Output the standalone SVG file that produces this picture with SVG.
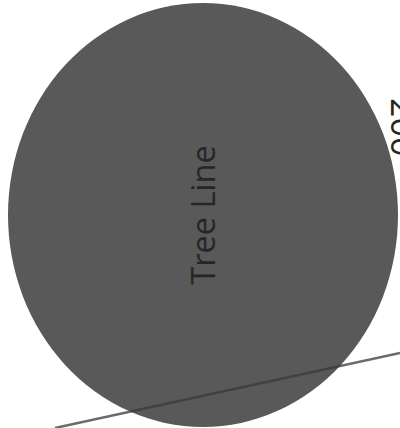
<svg xmlns="http://www.w3.org/2000/svg" width="400" height="428" viewBox="0 0 400 428">
  <style>
    .tree { fill: #595959; }
    .label { font-family: "Open Sans", "Noto Sans", sans-serif; fill: #262626; }
    .conn { stroke: #3a3a3a; stroke-opacity: 0.75; stroke-width: 2.5; fill: none; }
  </style>
  <rect width="400" height="428" fill="#ffffff"/>
  <g id="tree-line">
    <ellipse class="tree" cx="203" cy="215" rx="195" ry="212"/>
    <text class="label" font-size="32.5" text-anchor="middle" transform="translate(215,215) rotate(-90)">Tree Line</text>
  </g>
  <g id="distance-label">
    <text class="label" font-size="34" transform="translate(391,98) rotate(90)">200'</text>
  </g>
  <g id="connectors">
    <line class="conn" x1="55" y1="428" x2="400" y2="353"/>
  </g>
</svg>
